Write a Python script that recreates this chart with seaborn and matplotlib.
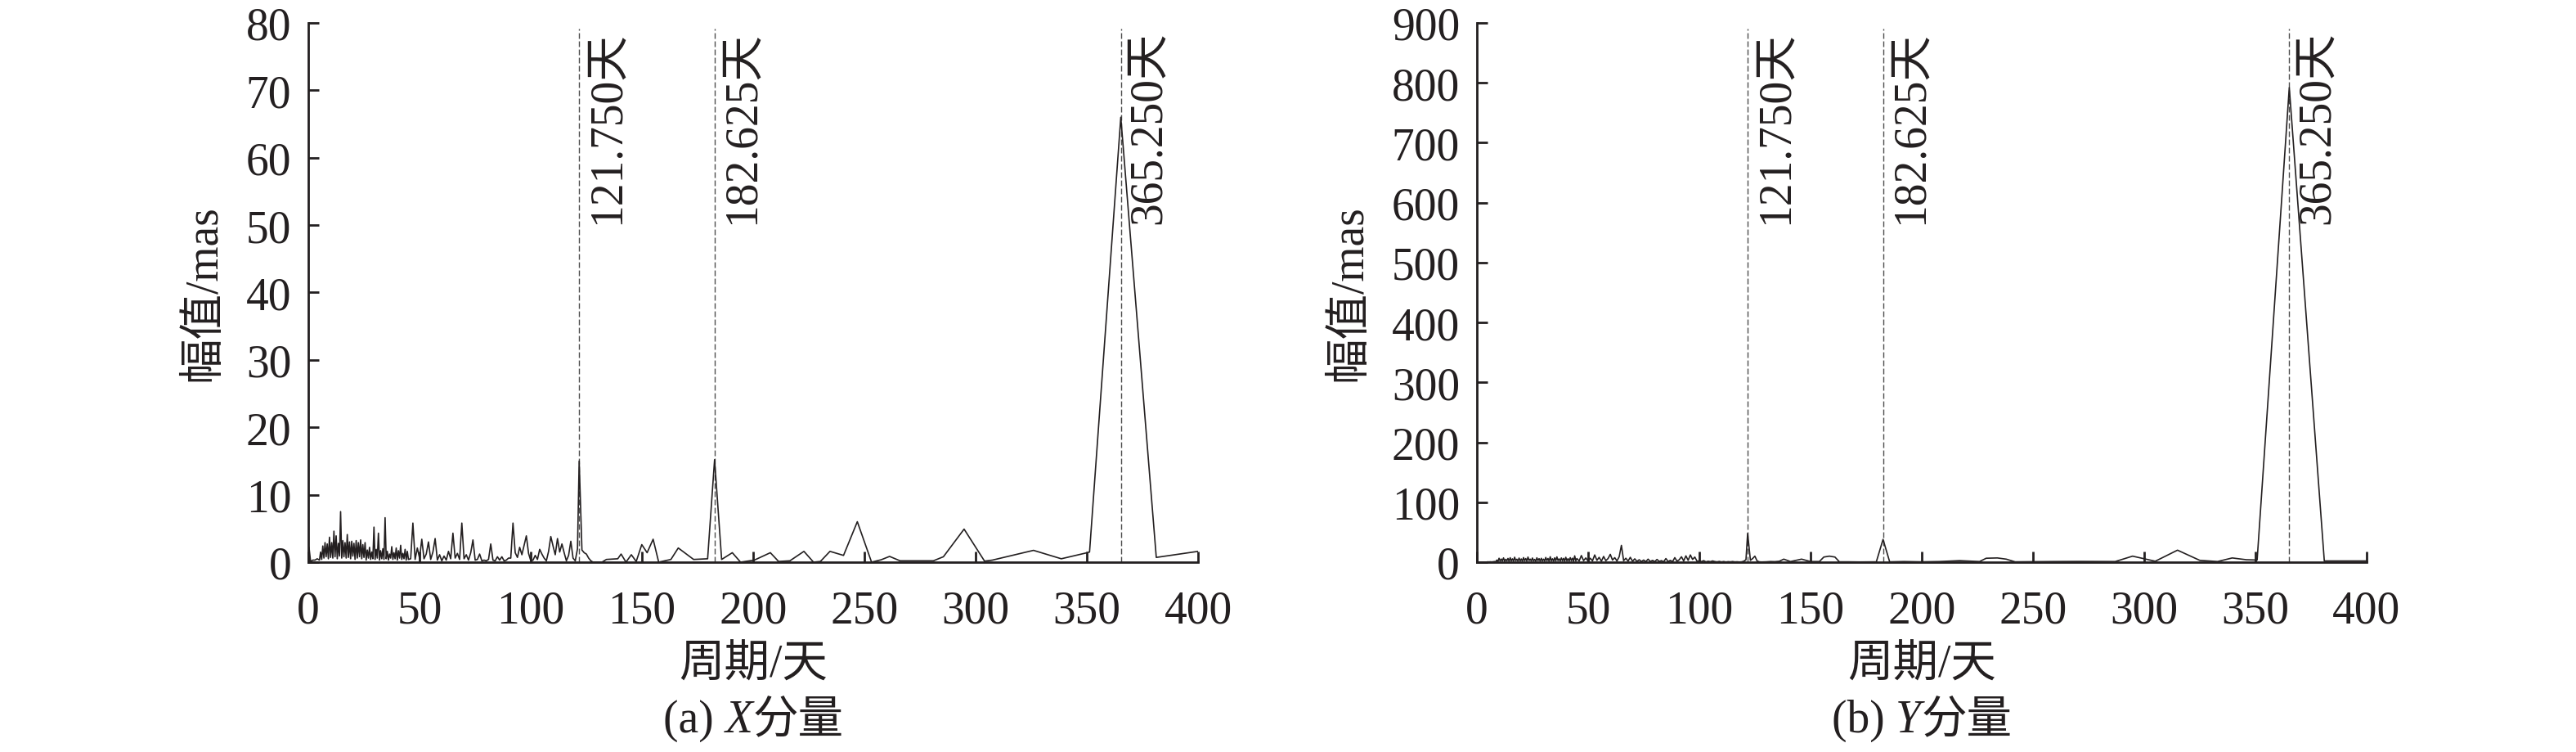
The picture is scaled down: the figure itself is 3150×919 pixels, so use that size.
"""Amplitude spectrum of polar motion X / Y components."""
import matplotlib
matplotlib.use('Agg')
import matplotlib.pyplot as plt
import matplotlib.transforms as mtransforms
from matplotlib.offsetbox import TextArea, HPacker, AnchoredOffsetbox
import pandas as pd
import seaborn as sns

# ---- data ----
# shared period grid for the dense short-period part (days)
period_short = [
    0.3, 1.0, 2.0, 3.0, 4.0,
    5.0, 5.5, 6.0, 6.5, 7.0, 7.5, 8.0, 8.5, 9.0, 9.5,
    10.0, 10.5, 11.0, 11.5, 12.0, 12.5, 13.0, 13.5, 14.0, 14.5,
    15.0, 15.5, 16.0, 16.5, 17.0, 17.5, 18.0, 18.5, 19.0, 19.5,
    20.0, 20.5, 21.0, 21.5, 22.0, 22.5, 23.0, 23.5, 24.0, 24.5,
    25.0, 25.5, 26.0, 26.5, 27.0, 27.5, 28.0, 28.5, 29.0, 29.5,
    30.0, 30.5, 31.0, 31.5, 32.0, 32.5, 33.0, 33.5, 34.0, 34.5,
    35.0, 35.5, 36.0, 36.5, 37.0, 37.5, 38.0, 38.5, 39.0, 39.5,
    40.0, 40.5, 41.0, 41.5, 42.0, 42.5, 43.0, 43.5, 44.0, 44.5,
    45.0,
    46, 47, 48, 49, 50, 51, 52, 53, 54, 55,
    56, 57, 58, 59, 60, 61, 62, 63, 64, 65,
    66, 67, 68, 69, 70, 71, 72, 73, 74, 75,
    76, 77, 78, 79, 80, 81, 82, 83, 84, 85,
    86, 87, 88, 89, 90, 91, 92, 93, 94, 95,
    96, 97, 98, 99, 100, 101, 102, 103, 104, 105,
    106, 107, 108, 109, 110, 111, 112, 113, 114, 115,
    116, 117, 118, 119, 120,
    121, 121.75, 123, 124, 125, 126, 127, 128, 130, 132, 134,
]

amp_x_short = [
    2.2, 0.1, 0.3, 0.3, 0.5,
    0.3, 1.5, 0.4, 2.4, 0.6, 2.9, 0.8, 2.7, 0.5, 3.7,
    0.7, 2.9, 0.6, 4.6, 0.8, 3.9, 0.5, 2.8, 0.9, 7.5,
    0.6, 3.2, 0.8, 2.9, 0.6, 4.1, 0.7, 3.0, 0.5, 3.1,
    0.9, 2.8, 0.4, 3.2, 0.6, 2.9, 0.8, 3.3, 0.5, 2.6,
    0.7, 2.9, 0.3, 1.8, 0.6, 2.2, 0.4, 1.5, 0.5, 5.2,
    0.4, 1.9, 0.6, 4.3, 0.3, 1.7, 0.5, 2.0, 0.4, 6.6,
    0.5, 1.6, 0.3, 1.2, 0.6, 2.3, 0.4, 1.4, 0.5, 2.1,
    0.3, 1.7, 0.6, 2.5, 0.4, 1.3, 0.5, 1.9, 0.3, 1.6,
    0.4,
    0.5, 5.8, 0.4, 2.1, 0.6, 3.4, 0.5, 1.2, 3.0, 0.4,
    1.5, 3.5, 0.3, 1.1, 0.2, 0.9, 0.3, 1.6, 0.5, 4.3,
    0.6, 1.3, 0.4, 5.8, 0.5, 1.1, 0.3, 1.4, 3.3, 0.3,
    0.4, 1.2, 0.2, 0.3, 0.2, 0.4, 2.7, 0.3, 0.2, 0.8,
    0.3, 0.8, 0.2, 0.3, 0.6, 0.6, 5.8, 1.4, 0.7, 2.2,
    1.1, 2.5, 3.9, 1.3, 0.2, 0.3, 1.0, 0.4, 1.9, 1.2,
    0.6, 0.2, 1.6, 3.8, 2.4, 1.1, 3.5, 1.5, 2.7, 1.4,
    0.2, 1.0, 3.1, 0.6, 0.2,
    2.0, 15.0, 1.8, 1.4, 1.2, 0.6, 0.2, 0.0, 0.0, 0.0, 0.4,
]

amp_y_short = [
    0.0, 0.0, 0.0, 0.0, 0.0,
    0.5, 0.3, 0.6, 0.4, 0.5, 0.8, 1.0, 0.6, 3.5, 1.2,
    6.5, 1.8, 5.2, 2.0, 7.1, 1.5, 4.8, 2.2, 6.2, 1.4,
    7.4, 2.1, 5.5, 1.6, 8.2, 2.4, 4.9, 1.8, 6.8, 2.0,
    5.3, 1.5, 7.6, 2.3, 6.0, 1.7, 8.5, 2.6, 5.1, 1.9,
    6.9, 2.2, 4.6, 1.4, 7.3, 2.5, 5.8, 1.6, 6.4, 2.1,
    5.0, 1.8, 7.8, 2.4, 6.1, 1.5, 9.0, 2.2, 5.6, 1.7,
    7.2, 2.0, 8.8, 2.6, 5.4, 1.9, 7.0, 2.3, 6.3, 1.6,
    8.1, 2.2, 5.7, 1.8, 7.5, 2.4, 6.6, 1.5, 10.5, 2.1,
    6.0,
    2.0, 11.0, 2.5, 7.0, 1.8, 6.5, 2.2, 12.0, 3.0, 8.0,
    1.5, 9.5, 2.4, 6.0, 13.0, 3.5, 7.5, 2.0, 9.0, 28.0,
    2.5, 6.5, 1.8, 8.0, 1.5, 5.5, 1.2, 4.0, 1.0, 3.5,
    0.8, 5.0, 1.0, 3.0, 0.8, 4.5, 1.2, 2.5, 0.6, 6.0,
    1.0, 3.0, 0.8, 7.5, 1.5, 4.0, 9.0, 2.0, 10.5, 3.0,
    12.0, 4.5, 8.5, 1.5, 2.0, 1.0, 2.5, 0.5, 1.5, 0.8,
    2.0, 1.0, 0.5, 1.2, 0.4, 1.0, 0.3, 0.8, 0.5, 1.0,
    0.4, 0.6, 0.3, 0.5, 1.5,
    4.0, 48.0, 3.0, 6.0, 10.0, 2.0, 0.5, 0.3, 0.5, 1.0, 0.8,
]

# sparse long-period part, X component
period_x_long = [
    139.1, 140.6, 142.8, 145.2, 147.4, 149.9, 152.3, 155.0, 157.5, 163.0,
    166.3, 173.2, 179.5, 182.625, 185.8, 190.6, 194.3, 200.5, 207.7, 211.4,
    216.5, 222.8, 227.1, 230.2, 234.5, 240.6, 246.8, 253.2, 257.5, 261.3,
    266.0, 281.0, 285.5, 294.8, 304.0, 307.5, 326.0, 338.5, 349.5, 351.2,
    365.25, 381.2, 400.0,
]
amp_x_long = [
    0.5, 1.2, 0.0, 1.1, 0.1, 2.6, 1.4, 3.4, 0.0, 0.4,
    2.1, 0.4, 0.5, 15.2, 0.4, 1.4, 0.0, 0.3, 1.4, 0.1,
    0.2, 1.6, 0.0, 0.1, 1.6, 1.0, 6.0, 0.0, 0.35, 0.85,
    0.2, 0.2, 0.8, 4.9, 0.15, 0.3, 1.75, 0.5, 1.35, 1.5,
    66.0, 0.7, 1.6,
]

# sparse long-period part, Y component
period_y_long = [
    136.0, 138.0, 141.0, 146.0, 150.0, 154.0, 156.0, 158.5, 161.0, 163.0,
    167.0, 172.0, 179.6, 182.625, 185.6, 192.0, 200.0, 208.0, 217.0, 226.0,
    229.0, 234.0, 238.0, 242.0, 259.0, 271.0, 287.0, 294.8, 305.0, 315.0,
    325.0, 333.0, 339.6, 346.0, 350.8, 365.25, 381.0, 400.0,
]
amp_y_long = [
    1.5, 5.0, 1.0, 5.0, 1.0, 1.0, 8.5, 10.0, 8.5, 0.5,
    0.5, 0.3, 0.5, 38.0, 0.5, 1.0, 0.5, 1.0, 2.5, 1.0,
    6.5, 7.0, 5.0, 0.5, 1.0, 1.2, 1.0, 10.0, 1.5, 20.0,
    3.0, 1.0, 7.0, 4.0, 3.5, 792.0, 2.0, 2.0,
]

marked_periods = [121.75, 182.625, 365.25]
marked_labels = ['121.750天', '182.625天', '365.250天']

x_ticks = [0, 50, 100, 150, 200, 250, 300, 350, 400]
x_yticks = [0, 10, 20, 30, 40, 50, 60, 70, 80]
y_yticks = [0, 100, 200, 300, 400, 500, 600, 700, 800, 900]

INK = '#231f20'
DASH = '#4d4d4d'
FS = 40

sns.set_theme(style='ticks')
plt.rcParams['font.family'] = ['Liberation Serif', 'Noto Sans CJK SC']
plt.rcParams['axes.unicode_minus'] = False

df_x = pd.DataFrame({'period': period_short + period_x_long,
                     'amp': amp_x_short + amp_x_long})
df_y = pd.DataFrame({'period': period_short + period_y_long,
                     'amp': amp_y_short + amp_y_long})

fig = plt.figure(figsize=(31.5, 9.2), dpi=100)
ax_x = fig.add_axes([0.1197, 0.2522, 0.3454, 0.7163])
ax_y = fig.add_axes([0.5733, 0.2522, 0.3454, 0.7163])

panels = [
    (ax_x, df_x, (0, 80), x_yticks, '(a) ', 'X'),
    (ax_y, df_y, (0, 900), y_yticks, '(b) ', 'Y'),
]

for ax, df, ylim, yticks, tag, comp in panels:
    sns.lineplot(data=df, x='period', y='amp', ax=ax, color=INK,
                 linewidth=1.2, estimator=None, sort=True)

    for p, lab in zip(marked_periods, marked_labels):
        ax.axvline(p, ymin=0, ymax=0.99, color=DASH, linewidth=1.0,
                   linestyle=(0, (5, 2.2)), zorder=1)
        trans = mtransforms.offset_copy(ax.get_xaxis_transform(), fig=fig,
                                        x=6, y=0, units='points')
        ax.text(p, 0.986, lab, transform=trans, rotation=90,
                ha='left', va='top', fontsize=FS, color=INK)

    ax.set_xlim(0, 400)
    ax.set_ylim(*ylim)
    ax.set_xticks(x_ticks)
    ax.set_yticks(yticks)
    sns.despine(ax=ax)
    for side in ['left', 'bottom']:
        ax.spines[side].set_linewidth(2.0)
        ax.spines[side].set_color(INK)
    ax.tick_params(axis='both', direction='in', length=9.4, width=2.0,
                   color=INK, labelcolor=INK, labelsize=FS)
    ax.tick_params(axis='x', pad=24)
    ax.tick_params(axis='y', pad=15)

    ax.set_xlabel('周期/天', fontsize=FS, color=INK, labelpad=10)
    ax.set_ylabel('幅值/mas', fontsize=FS, color=INK, labelpad=18)

    # caption "(a) X分量" with an italic component letter
    props = dict(fontsize=FS, color=INK)
    parts = [TextArea(tag, textprops=props),
             TextArea(comp, textprops=dict(props, style='italic')),
             TextArea('分量', textprops=props)]
    box = HPacker(children=parts, align='baseline', pad=0, sep=0)
    cap = AnchoredOffsetbox(loc='center', child=box, pad=0, borderpad=0,
                            frameon=False, bbox_to_anchor=(0.5, -0.293),
                            bbox_transform=ax.transAxes)
    ax.add_artist(cap)

fig.savefig('out.png', dpi=100)
